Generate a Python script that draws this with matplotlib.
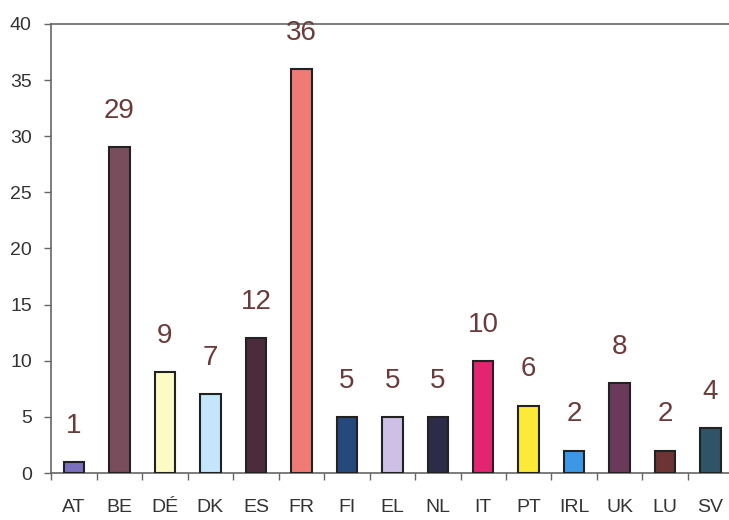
import matplotlib
matplotlib.use("Agg")
import matplotlib.pyplot as plt
import numpy as np

# Pays et nombre de cas
pays = ["AT", "BE", "DÉ", "DK", "ES", "FR", "FI", "EL", "NL", "IT", "PT", "IRL", "UK", "LU", "SV"]
valeurs = [1, 29, 9, 7, 12, 36, 5, 5, 5, 10, 6, 2, 8, 2, 4]
couleurs = ["#7b6fc0", "#7a4d5c", "#fdfbc4", "#c3e6fa", "#4c2c3c", "#f07a74", "#24497a",
            "#cdbfe6", "#2c2c48", "#e3246e", "#fbea36", "#3a98e6", "#6b3a5a", "#6c3434",
            "#2f5468"]

plt.rcParams['font.family'] = ['Liberation Sans', 'DejaVu Sans']

fig = plt.figure(figsize=(7.29, 5.20), dpi=100)
ax = fig.add_axes([51.3 / 729, 47 / 520, 682 / 729, 449 / 520])

x = np.arange(len(pays))
ax.bar(x, valeurs, width=0.45, color=couleurs, edgecolor="#222222", linewidth=1.5, zorder=3)

for xi, v in zip(x, valeurs):
    ax.annotate(str(v), (xi, v), xytext=(0, 21), textcoords="offset points",
                ha="center", va="baseline", fontsize=20, color="#6b3b3b")

ax.set_xlim(-0.5, len(pays) - 0.5)
ax.set_ylim(0, 40)
ax.set_yticks(range(0, 41, 5))

# étiquettes au centre, petites graduations entre les barres
ax.set_xticks(x)
ax.set_xticklabels(pays)
ax.set_xticks(np.arange(-0.5, len(pays), 1), minor=True)
ax.tick_params(axis="x", which="major", length=0, pad=19, labelsize=14, colors="#333333")
ax.tick_params(axis="x", which="minor", length=5, width=1, color="#666666")
ax.tick_params(axis="y", length=5, width=1, pad=9, labelsize=14, color="#666666",
               labelcolor="#333333")

for s in ["left", "bottom", "top"]:
    ax.spines[s].set_color("#666666")
    ax.spines[s].set_linewidth(1.2)
ax.spines["right"].set_visible(False)

fig.savefig("out.png", dpi=100)
